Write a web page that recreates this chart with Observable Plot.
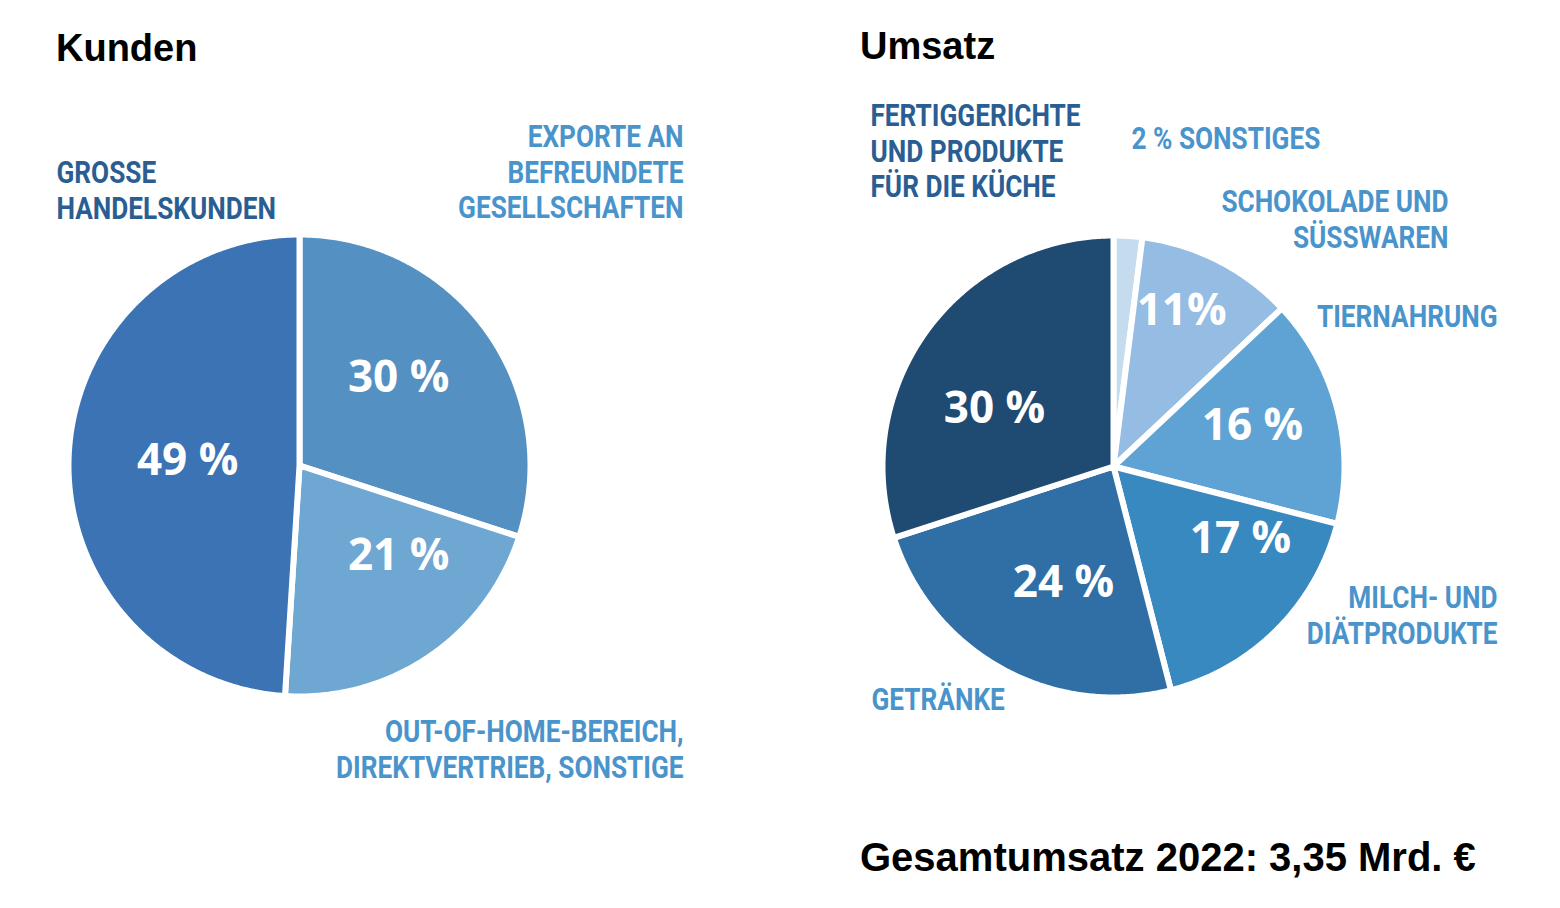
<!DOCTYPE html>
<html><head><meta charset="utf-8">
<script src="https://cdn.jsdelivr.net/npm/d3@7"></script>
<script src="https://cdn.jsdelivr.net/npm/@observablehq/plot@0.6"></script>
<style>
body{margin:0;background:#fff;}
#wrap{position:relative;width:1560px;height:908px;overflow:hidden;}
#chart{position:absolute;left:0;top:0;}
.t{position:absolute;font-family:"Liberation Sans",Arial,sans-serif;font-weight:bold;color:#000;white-space:nowrap;line-height:1;}
</style></head><body>
<div id="wrap">
<div id="chart"></div>
<div class="t" style="left:56px;top:29px;font-size:38px">Kunden</div>
<div class="t" style="left:860px;top:27px;font-size:38px">Umsatz</div>
<div class="t" style="left:860px;top:837px;font-size:40px">Gesamtumsatz 2022: 3,35 Mrd. €</div>
</div>
<script>
// ---- data ----
const kundenCategories = ["Exporte an befreundete Gesellschaften", "Out-of-Home-Bereich, Direktvertrieb, Sonstige", "Große Handelskunden"];
const kundenValues = [30, 21, 49];
const kundenPercentText = ["30 %", "21 %", "49 %"];
const kundenLabelLines = [["EXPORTE AN", "BEFREUNDETE", "GESELLSCHAFTEN"], ["OUT-OF-HOME-BEREICH,", "DIREKTVERTRIEB, SONSTIGE"], ["GROSSE", "HANDELSKUNDEN"]];

const umsatzCategories = ["Sonstiges", "Schokolade und Süßwaren", "Tiernahrung", "Milch- und Diätprodukte", "Getränke", "Fertiggerichte und Produkte für die Küche"];
const umsatzValues = [2, 11, 16, 17, 24, 30];
const umsatzPercentText = ["", "11%", "16 %", "17 %", "24 %", "30 %"];
const umsatzLabelLines = [["2 % SONSTIGES"], ["SCHOKOLADE UND", "SÜSSWAREN"], ["TIERNAHRUNG"], ["MILCH- UND", "DIÄTPRODUKTE"], ["GETRÄNKE"], ["FERTIGGERICHTE", "UND PRODUKTE", "FÜR DIE KÜCHE"]];

// ---- styles / layout ----
const kundenColors = ["#5590c3", "#6fa7d3", "#3b73b4"];
const umsatzColors = ["#c5dbee", "#95bce2", "#5ea3d3", "#3889c0", "#2f6fa6", "#1f4a72"];
const darkLabel = "#2a5e93", lightLabel = "#4a94cc";
const kundenLabelStyle = [
  {x: 683, y: 137, anchor: "end", color: lightLabel},
  {x: 683, y: 732, anchor: "end", color: lightLabel},
  {x: 56, y: 173, anchor: "start", color: darkLabel}
];
const umsatzLabelStyle = [
  {x: 1131, y: 139, anchor: "start", color: lightLabel},
  {x: 1448, y: 202, anchor: "end", color: lightLabel},
  {x: 1497, y: 317, anchor: "end", color: lightLabel},
  {x: 1497, y: 598, anchor: "end", color: lightLabel},
  {x: 871, y: 700, anchor: "start", color: lightLabel},
  {x: 870, y: 116, anchor: "start", color: darkLabel}
];
// percentage label placement: radius fraction and angular nudge (degrees) from slice middle
const kundenPctPlace = [{r: 0.574, da: -5.6}, {r: 0.58, da: -13.5}, {r: 0.485, da: 0.8}];
const umsatzPctPlace = [null, {r: 0.737, da: -3.4}, {r: 0.627, da: -2}, {r: 0.632, da: -15.4}, {r: 0.547, da: -5.5}, {r: 0.573, da: -10}];
const lineHeight = 35.5;
const labelCondense = 0.845;

const pies = [
  {values: kundenValues, cats: kundenCategories, colors: kundenColors, pct: kundenPercentText, place: kundenPctPlace, lines: kundenLabelLines, lstyle: kundenLabelStyle, cx: 299, cy: 465, R: 231},
  {values: umsatzValues, cats: umsatzCategories, colors: umsatzColors, pct: umsatzPercentText, place: umsatzPctPlace, lines: umsatzLabelLines, lstyle: umsatzLabelStyle, cx: 1113, cy: 466, R: 231}
];

const marks = [];
const pctRows = [];
const labelRows = [];
for (const p of pies) {
  const arcs = d3.pie().sort(null)(p.values);
  arcs.forEach((a, i) => {
    const pts = [{x: p.cx, y: p.cy}];
    const n = Math.max(2, Math.ceil((a.endAngle - a.startAngle) / (Math.PI / 360)));
    for (let k = 0; k <= n; k++) {
      const t = a.startAngle + (a.endAngle - a.startAngle) * k / n;
      pts.push({x: p.cx + p.R * Math.sin(t), y: p.cy - p.R * Math.cos(t)});
    }
    pts.push({x: p.cx, y: p.cy});
    marks.push(Plot.line(pts, {x: "x", y: "y", fill: p.colors[i], stroke: "white", strokeWidth: 6, strokeLinejoin: "round", title: () => `${p.cats[i]}: ${p.values[i]} %`}));
    if (p.pct[i]) {
      const pl = p.place[i];
      const mid = (a.startAngle + a.endAngle) / 2 + pl.da * Math.PI / 180;
      pctRows.push({x: p.cx + p.R * pl.r * Math.sin(mid), y: p.cy - p.R * pl.r * Math.cos(mid), text: p.pct[i]});
    }
    const s = p.lstyle[i];
    p.lines[i].forEach((ln, j) => labelRows.push({x: s.x, y: s.y + j * lineHeight, text: ln, anchor: s.anchor, color: s.color}));
  });
}

marks.push(Plot.text(pctRows, {x: "x", y: "y", text: "text", fill: "white", fontSize: 44, fontWeight: 700, fontFamily: "'Open Sans', sans-serif"}));
for (const anchor of ["start", "end"]) {
  marks.push(Plot.text(labelRows.filter(d => d.anchor === anchor), {x: "x", y: "y", text: "text", fill: "color", textAnchor: anchor, fontSize: 31, fontWeight: 700, fontFamily: "Roboto, sans-serif"}));
}

const chart = Plot.plot({
  width: 1560, height: 908,
  margin: 0,
  x: {type: "linear", domain: [0, 1560], range: [0, 1560], axis: null},
  y: {type: "linear", domain: [0, 908], range: [0, 908], axis: null},
  color: {type: "identity"},
  style: {background: "transparent"},
  marks
});
// condense the category labels horizontally around their anchor point
const labelSet = new Set(labelRows.map(d => d.text));
chart.querySelectorAll("text").forEach(el => {
  if (!labelSet.has(el.textContent)) return;
  const tr = el.getAttribute("transform");
  if (tr) {
    el.setAttribute("transform", `${tr} scale(${labelCondense},1)`);
  } else {
    const x = +el.getAttribute("x") || 0, y = +el.getAttribute("y") || 0;
    el.setAttribute("transform", `translate(${x},${y}) scale(${labelCondense},1) translate(${-x},${-y})`);
  }
});
document.getElementById("chart").appendChild(chart);
</script>
</body></html>
